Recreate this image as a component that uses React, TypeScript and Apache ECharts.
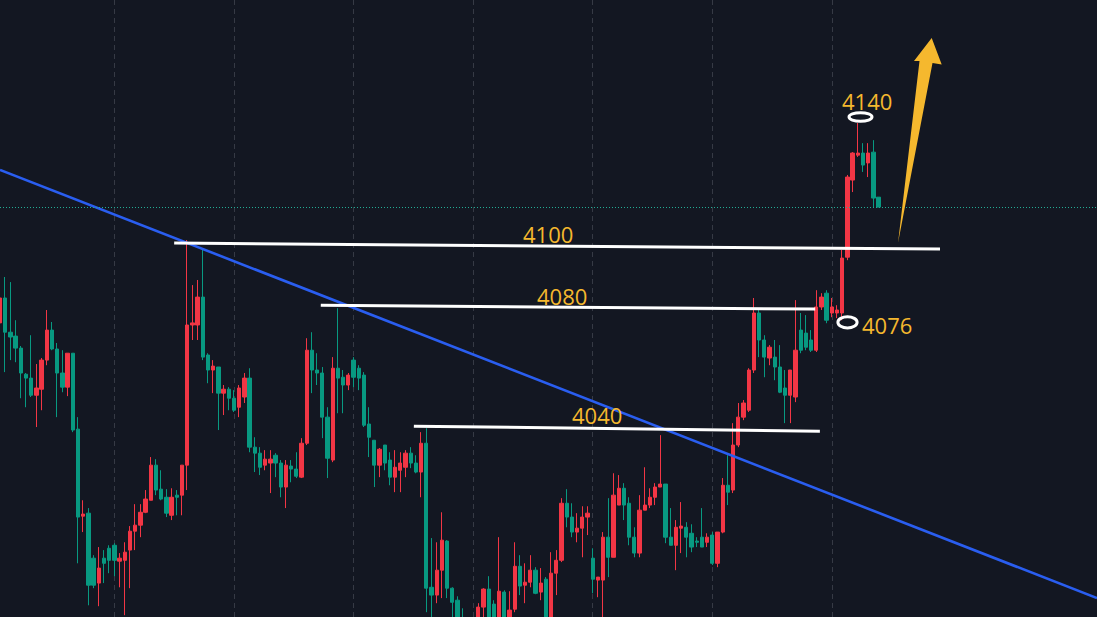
import { useEffect, useRef } from 'react';
import * as echarts from 'echarts';

// Candle values, index i = bar number from the left edge
const opens = [
  4074.7,4083.0,4071.6,4070.3,4066.3,4057.6,4056.3,4050.6,4052.6,4062.3,
  4072.3,4066.0,4058.0,4053.3,4064.6,4039.3,4010.3,4011.3,3996.3,3988.0,
  3996.3,3999.6,4000.6,
  3995.3,3995.6,3999.0,4005.3,4007.3,4011.6,4015.6,4027.3,4019.3,4016.6,
  4010.6,4017.3,4017.3,4027.3,4074.0,4074.0,4083.3,4064.0,4059.0,4060.0,
  4051.3,4052.6,4049.6,
  4046.6,4050.0,4056.3,4033.3,4031.3,4027.3,4028.0,4030.6,4028.0,4020.0,
  4027.0,4026.0,4023.3,4034.6,4065.6,4059.0,4058.0,4043.3,4029.0,4059.6,
  4056.6,4054.0,4062.3,
  4059.6,4057.3,4041.0,4035.6,4027.3,4034.0,4029.0,4023.3,4025.6,4026.6,
  4031.3,4028.0,4025.0,4034.6,3986.6,3984.0,3992.3,4002.0,3986.3,3982.3,
  3975.0,3972.3,3969.0,
  3974.0,3980.0,3986.0,3981.0,3975.6,3985.0,3975.6,3979.3,3993.6,3987.3,
  3988.3,3992.3,3985.0,3989.3,3975.6,3991.3,3995.6,4014.6,4010.0,4005.0,
  4006.3,4010.0,3996.3,
  3989.0,3989.0,4003.3,3996.6,4014.0,4019.6,4014.6,4003.3,3998.0,4012.3,
  4014.0,4016.6,4020.0,4021.0,4003.3,4000.6,4006.3,4006.6,4004.6,4002.0,
  4003.3,4001.6,4004.0,
  3994.6,4005.0,4020.6,4019.0,4034.0,4043.3,4045.6,4059.0,4078.0,4069.0,
  4063.0,4063.3,4060.0,4053.0,4050.6,4050.0,4072.3,4071.3,4069.0,4065.6,
  4080.0,4084.6,4078.0,4078.0,4078.0,4096.6,4122.3,4130.6,4131.3,4128.0,
  4131.6,4116.6
];
const closes = [
  4083.0,4071.6,4070.0,4066.3,4058.0,4056.3,4050.6,4053.0,4062.3,4072.3,
  4066.0,4058.0,4053.3,4064.6,4039.0,4010.0,4011.0,3987.3,3987.3,3993.0,
  3994.6,3995.6,3995.6,
  3996.3,3998.3,4005.3,4007.3,4011.6,4016.0,4027.3,4019.0,4016.0,4011.3,
  4016.6,4016.6,4027.3,4074.0,4074.7,4083.3,4063.3,4059.0,4060.3,4051.3,
  4052.6,4049.6,4045.6,
  4053.0,4056.3,4033.3,4031.3,4026.6,4029.3,4029.3,4028.0,4020.0,4027.3,
  4026.0,4023.6,4034.6,4065.6,4059.0,4058.0,4043.3,4029.6,4059.6,4056.3,
  4054.0,4057.3,4056.6,
  4056.3,4040.6,4036.6,4027.3,4032.6,4028.0,4023.3,4026.6,4028.0,4031.3,
  4028.0,4025.0,4034.6,3986.3,3984.0,3992.3,4002.3,3986.3,3981.6,3974.0,
  3971.6,3969.0,3972.3,
  3980.0,3986.0,3975.6,3976.3,3985.3,3976.3,3979.0,3993.6,3987.0,3988.3,
  3992.3,3984.6,3988.0,3976.6,3991.3,3995.6,4014.6,4010.0,4005.0,4006.3,
  4010.0,4011.3,3989.3,
  3990.0,4003.3,3996.6,4017.3,4019.6,4014.0,4003.3,3998.0,4012.3,4014.0,
  4016.6,4020.0,4021.0,4003.3,4000.6,4006.6,4007.0,4003.3,4000.0,4001.6,
  4000.0,4003.3,3994.6,
  4005.0,4020.6,4018.3,4034.0,4043.3,4048.0,4059.0,4078.0,4069.0,4063.3,
  4066.6,4060.0,4051.6,4050.6,4059.0,4065.6,4065.6,4066.6,4065.6,4080.0,
  4083.3,4075.6,4080.0,4079.0,4096.3,4123.3,4131.3,4131.3,4127.3,4131.3,
  4116.3,4113.3
];
const lows = [
  4066.3,4058.3,4062.3,4061.6,4049.6,4046.6,4050.0,4040.0,4045.6,4060.6,
  4065.6,4043.3,4051.6,4050.3,4038.3,3994.6,4005.0,3980.6,3986.3,3980.3,
  3988.0,3991.3,3990.3,
  3986.6,3977.3,3986.3,3999.0,4003.3,4011.3,4015.6,4017.3,4015.6,4010.0,
  4009.0,4010.6,4010.6,4019.0,4069.0,4069.0,4062.3,4054.6,4051.3,4039.0,
  4044.0,4045.6,4045.0,
  4043.3,4048.0,4031.6,4025.0,4024.0,4025.6,4018.0,4023.3,4016.6,4013.0,
  4021.6,4023.0,4023.0,4034.0,4051.3,4054.0,4036.3,4023.0,4028.3,4044.6,
  4044.6,4052.3,4053.3,
  4052.3,4040.0,4030.0,4020.0,4023.3,4025.6,4020.6,4018.3,4018.3,4023.3,
  4026.3,4024.6,4016.6,3978.3,3976.6,3981.3,3983.0,3983.0,3976.6,3972.3,
  3969.0,3965.6,3966.3,
  3972.3,3976.6,3974.0,3974.0,3974.0,3975.0,3974.3,3978.3,3984.0,3981.3,
  3986.6,3984.3,3982.3,3975.0,3974.0,3984.0,3995.0,4006.6,4003.3,4001.6,
  3996.6,4004.0,3984.6,
  3983.3,3976.6,3990.0,3996.6,4014.0,4009.0,4000.6,3996.6,3996.6,4012.3,
  4013.0,4014.0,4020.0,4001.3,4000.6,3992.3,3998.0,3996.6,3998.3,4000.0,
  4000.0,4000.0,3994.0,
  3993.3,4004.6,4014.0,4018.0,4033.3,4042.3,4045.0,4058.0,4063.3,4056.6,
  4060.6,4055.6,4051.3,4041.3,4041.3,4048.3,4064.6,4065.6,4065.0,4065.0,
  4079.0,4074.6,4076.6,4076.3,4075.6,4095.6,4118.3,4130.0,4125.0,4123.3,
  4113.0,4113.3
];
const highs = [
  4084.6,4090.0,4088.3,4075.6,4067.0,4058.0,4070.6,4061.0,4063.0,4079.0,
  4075.0,4068.0,4065.6,4064.6,4064.6,4043.3,4015.6,4013.0,3997.3,4000.0,
  3999.0,4000.6,4001.3,
  3998.0,4001.6,4007.0,4014.3,4014.3,4019.0,4030.0,4029.3,4025.6,4019.3,
  4019.6,4019.0,4027.3,4102.3,4087.3,4089.0,4099.6,4064.6,4062.3,4060.0,
  4054.0,4053.3,4052.3,
  4054.0,4058.0,4059.6,4036.6,4033.3,4032.3,4032.3,4031.3,4029.0,4029.0,
  4029.0,4031.6,4036.3,4069.6,4071.6,4064.6,4060.0,4046.6,4063.3,4079.6,
  4059.0,4058.0,4063.3,
  4060.6,4058.3,4046.6,4035.6,4033.0,4034.0,4031.6,4032.3,4031.6,4032.3,
  4033.3,4030.6,4038.3,4039.6,4003.0,4001.6,4011.6,4002.3,3986.6,3983.6,
  3979.6,3974.0,3975.0,
  3981.3,3986.3,3990.3,3982.3,4003.3,3985.6,3985.3,4001.6,3997.3,3994.6,
  3997.3,3993.3,3993.0,3990.0,3998.3,3999.0,4016.3,4019.3,4014.6,4011.3,
  4013.6,4013.6,3999.6,
  3990.0,4005.0,4016.3,4024.6,4024.0,4021.3,4016.6,4006.6,4017.3,4026.6,
  4019.6,4021.3,4037.3,4021.0,4013.0,4009.0,4015.0,4008.3,4007.6,4003.3,
  4013.0,4004.6,4005.0,
  4005.0,4023.0,4030.6,4041.3,4048.0,4049.0,4059.6,4083.0,4079.0,4070.6,
  4067.3,4069.0,4067.3,4059.0,4059.0,4082.3,4078.0,4077.3,4072.3,4085.6,
  4084.6,4085.6,4083.0,4080.6,4099.0,4124.0,4131.6,4141.3,4134.6,4134.6,
  4135.6,4116.6
];

const slotCount = 212; // bar slots across the visible width
const categories = Array.from({ length: slotCount }, (_, i) => String(i));
const lastPrice = 4113.3;

// Horizontal level lines (start/end bar index and price)
const levelNames = ['4100', '4080', '4040'];
const levelStartIdx = [33.5, 61.7, 79.6];
const levelEndIdx = [180.8, 156.8, 157.7];
const levelStartPrice = [4101.3, 4080.6, 4040.3];
const levelEndPrice = [4099.3, 4079.3, 4038.6];

// Descending trend line
const trendIdx = [0, 211];
const trendPrice = [4125.7, 3983.0];

const UP = '#f23645';
const DOWN = '#089981';
const GOLD = '#f5b82e';

export default function App() {
  const ref = useRef<HTMLDivElement>(null);
  useEffect(() => {
    if (!ref.current) return;
    const chart = echarts.init(ref.current, undefined, { renderer: 'svg' });
    const candles = opens.map((o, i) => [o, closes[i], lows[i], highs[i]]);
    const levelSeries = levelNames.map((n, k) => ({
      type: 'line',
      name: n,
      xAxisIndex: 1,
      yAxisIndex: 0,
      symbol: 'none',
      silent: true,
      lineStyle: { color: '#ffffff', width: 3 },
      data: [
        [levelStartIdx[k], levelStartPrice[k]],
        [levelEndIdx[k], levelEndPrice[k]],
      ],
      z: 5,
    }));
    chart.setOption({
      animation: false,
      backgroundColor: '#131722',
      grid: { left: 0, right: 0, top: 0, bottom: 0 },
      xAxis: [
        {
          type: 'category',
          data: categories,
          boundaryGap: false,
          axisLine: { show: false },
          axisTick: { show: false },
          axisLabel: { show: false },
          splitLine: {
            show: true,
            interval: (index: number) => index % 23 === 22 && index < opens.length,
            lineStyle: { color: '#363a45', type: [5, 4], width: 1 },
          },
        },
        {
          type: 'value',
          min: 0,
          max: slotCount - 1,
          show: false,
          splitLine: { show: false },
        },
      ],
      yAxis: {
        type: 'value',
        min: 3976.7,
        max: 4182.3,
        show: false,
        splitLine: { show: false },
      },
      series: [
        {
          type: 'candlestick',
          data: candles,
          barWidth: 3.8,
          itemStyle: {
            color: UP,
            color0: DOWN,
            borderColor: UP,
            borderColor0: DOWN,
            borderWidth: 1,
          },
          markLine: {
            silent: true,
            symbol: 'none',
            label: { show: false },
            lineStyle: { color: '#22ab94', type: [1, 2], width: 1 },
            data: [{ yAxis: lastPrice }],
          },
          z: 3,
        },
        {
          type: 'line',
          xAxisIndex: 1,
          yAxisIndex: 0,
          symbol: 'none',
          silent: true,
          lineStyle: { color: '#2a5ef0', width: 2.6 },
          data: trendIdx.map((x, k) => [x, trendPrice[k]]),
          z: 4,
        },
        ...levelSeries,
      ],
      graphic: [
        {
          type: 'polygon',
          shape: {
            points: [
              [898, 243],
              [919.5, 61],
              [914, 61],
              [931.7, 38],
              [941.7, 64.5],
              [932.5, 63],
            ],
          },
          style: { fill: GOLD },
          z: 10,
        },
        {
          type: 'ellipse',
          shape: { cx: 860.5, cy: 117, rx: 11.5, ry: 4.3 },
          style: { fill: 'none', stroke: '#ffffff', lineWidth: 3 },
          z: 10,
        },
        {
          type: 'ellipse',
          shape: { cx: 847.5, cy: 322.3, rx: 9.6, ry: 5.6 },
          style: { fill: 'none', stroke: '#ffffff', lineWidth: 3 },
          z: 10,
        },
        ...[
          { t: '4100', x: 523, y: 234 },
          { t: '4080', x: 537, y: 296 },
          { t: '4040', x: 572, y: 415 },
          { t: '4140', x: 842, y: 101 },
          { t: '4076', x: 862, y: 325 },
        ].map((d) => ({
          type: 'text',
          x: d.x,
          y: d.y,
          z: 11,
          style: {
            text: d.t,
            fill: GOLD,
            fontSize: 22,
            fontFamily: 'Open Sans',
            align: 'left',
            verticalAlign: 'middle',
          },
        })),
      ],
    });
    return () => chart.dispose();
  }, []);
  return (
    <div
      ref={ref}
      style={{ position: 'fixed', left: 0, top: 0, width: 1097, height: 617 }}
    />
  );
}
